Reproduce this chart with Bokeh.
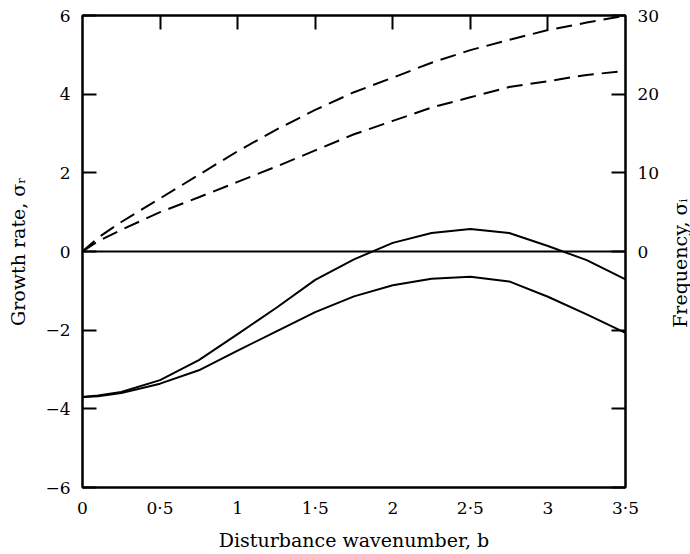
import math
from bokeh.plotting import figure
from bokeh.layouts import row
from bokeh.models import Range1d, LinearAxis, FixedTicker, Span
from bokeh.core.properties import value
from bokeh.embed import file_html
from bokeh.resources import INLINE

# ---- data ----
b = [0, 0.1, 0.25, 0.5, 0.75, 1.0, 1.25, 1.5, 1.75, 2.0, 2.25, 2.5, 2.75, 3.0, 3.25, 3.5]

# growth rate sigma_r (left axis)
growth_upper = [-3.7, -3.66, -3.57, -3.27, -2.76, -2.1, -1.43, -0.72, -0.2, 0.22, 0.47, 0.57, 0.47, 0.14, -0.22, -0.71]
growth_lower = [-3.7, -3.68, -3.6, -3.36, -3.02, -2.52, -2.03, -1.54, -1.14, -0.86, -0.69, -0.64, -0.76, -1.15, -1.6, -2.07]

# frequency sigma_i (right axis)
freq_upper = [0, 1.75, 3.75, 6.75, 9.75, 12.75, 15.5, 18.0, 20.25, 22.1, 24.0, 25.6, 26.9, 28.15, 29.1, 30.0]
freq_lower = [0, 1.3, 2.75, 5.0, 6.9, 8.85, 10.8, 12.85, 14.9, 16.6, 18.3, 19.6, 20.9, 21.65, 22.45, 22.95]

x_ticks = [0, 0.5, 1, 1.5, 2, 2.5, 3, 3.5]
x_labels = ["0", "0·5", "1", "1·5", "2", "2·5", "3", "3·5"]
y_ticks = [-6, -4, -2, 0, 2, 4, 6]
y_labels = ["−6", "−4", "−2", "0", "2", "4", "6"]
f_ticks = [-30, -20, -10, 0, 10, 20, 30]
f_labels = ["", "", "", "0", "10", "20", "30"]

x_title = "Disturbance wavenumber, b"
left_title = "Growth rate, σᵣ"
right_title = "Frequency, σᵢ"

FONT = "DejaVu Serif"
FS = "17px"
LFS = "19px"

p = figure(width=668, height=554, x_range=Range1d(0, 3.5), y_range=Range1d(-6, 6),
           output_backend="svg", toolbar_location=None,
           x_axis_location=None, y_axis_location=None,
           min_border_left=82, min_border_right=43, min_border_top=15, min_border_bottom=67)
p.extra_y_ranges = {"freq": Range1d(-30, 30)}
p.grid.visible = False
p.outline_line_color = "black"
p.outline_line_width = 2
p.background_fill_color = "white"
p.border_fill_color = "white"


def style(ax, tick_in):
    ax.axis_line_color = "black"
    ax.axis_line_width = 2
    ax.major_tick_line_color = "black"
    ax.major_tick_line_width = 2
    ax.major_tick_in = tick_in
    ax.major_tick_out = 0
    ax.minor_tick_line_color = None
    ax.major_label_text_font = FONT
    ax.major_label_text_font_size = FS
    ax.major_label_text_color = "black"
    ax.axis_label_text_font = FONT
    ax.axis_label_text_font_size = LFS
    ax.axis_label_text_font_style = "normal"
    ax.axis_label_text_color = "black"


bottom = LinearAxis(ticker=FixedTicker(ticks=x_ticks),
                    major_label_overrides={t: l for t, l in zip(x_ticks, x_labels)},
                    axis_label=x_title)
style(bottom, 0)
bottom.major_label_standoff = 10
bottom.axis_label_standoff = 8
p.add_layout(bottom, "below")

top = LinearAxis(ticker=FixedTicker(ticks=x_ticks[1:-1]),
                 major_label_overrides={t: "" for t in x_ticks})
style(top, 14)
top.major_label_standoff = 0
p.add_layout(top, "above")

left = LinearAxis(ticker=FixedTicker(ticks=y_ticks),
                  major_label_overrides={t: l for t, l in zip(y_ticks, y_labels)},
                  axis_label=left_title)
style(left, 14)
left.major_label_standoff = 12
left.axis_label_standoff = 13
p.add_layout(left, "left")

right = LinearAxis(y_range_name="freq", ticker=FixedTicker(ticks=f_ticks),
                   major_label_overrides={t: l for t, l in zip(f_ticks, f_labels)})
style(right, 14)
right.major_label_standoff = 12
p.add_layout(right, "right")

p.add_layout(Span(location=0, dimension="width", line_color="black", line_width=1.8))

p.line(b, growth_upper, line_color="black", line_width=2)
p.line(b, growth_lower, line_color="black", line_width=2)
p.line(b, freq_upper, y_range_name="freq", line_color="black", line_width=2, line_dash="16 8")
p.line(b, freq_lower, y_range_name="freq", line_color="black", line_width=2, line_dash="16 8")

# narrow strip on the right carrying the right-hand title (reads bottom-to-top)
p2 = figure(width=22, height=554, x_range=Range1d(0, 1), y_range=Range1d(-6, 6),
            output_backend="svg", toolbar_location=None,
            x_axis_location=None, y_axis_location=None,
            min_border_left=0, min_border_right=0, min_border_top=15, min_border_bottom=67)
p2.grid.visible = False
p2.outline_line_color = None
p2.background_fill_color = "white"
p2.border_fill_color = "white"
p2.text(x=[0.5], y=[-0.3], text=[right_title], angle=math.pi / 2,
        text_align="center", text_baseline="middle",
        text_font=value(FONT), text_font_size=value(LFS), text_color="black")

layout = row(p, p2, spacing=0)
open("out.html", "w").write(file_html(layout, INLINE))
